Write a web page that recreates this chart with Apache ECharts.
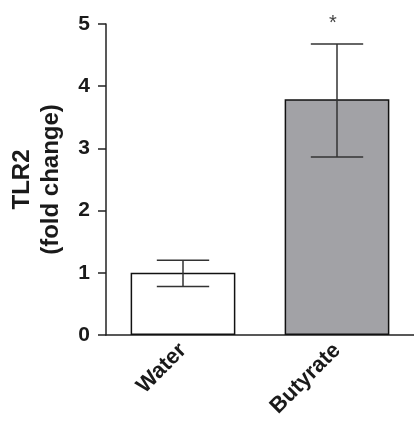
<!DOCTYPE html>
<html>
<head>
<meta charset="utf-8">
<script src="https://cdn.jsdelivr.net/npm/echarts@6/dist/echarts.min.js"></script>
<style>
  html, body { margin: 0; padding: 0; background: #fff; }
  #chart { width: 414px; height: 423px; }
</style>
</head>
<body>
<div id="chart"></div>
<script>
// Data
let groups = ['Water', 'Butyrate'];
let means = [1.0, 3.79];
let errLow = [0.78, 2.86];
let errHigh = [1.20, 4.68];
let signif = ['', '*'];
let barColors = ['#ffffff', '#a2a2a6'];
let yTicks = [0, 1, 2, 3, 4, 5];

let chart = echarts.init(document.getElementById('chart'));

let option = {
    animation: false,
    textStyle: { fontFamily: 'Liberation Sans, Arial, sans-serif' },
    grid: {
        left: 103,
        right: 0,
        top: 24,
        bottom: 88
    },
    xAxis: {
        type: 'category',
        data: groups,
        axisLine: { lineStyle: { color: '#222', width: 1.5 } },
        axisTick: { alignWithLabel: true, length: 8, lineStyle: { color: '#222', width: 1.5 } },
        axisLabel: {
            rotate: 45,
            fontSize: 22,
            fontWeight: 'bold',
            color: '#1a1a1a',
            margin: 12
        }
    },
    yAxis: {
        type: 'value',
        min: yTicks[0],
        max: yTicks[yTicks.length - 1],
        interval: 1,
        name: 'TLR2\n(fold change)',
        nameLocation: 'middle',
        nameRotate: 90,
        nameGap: 40,
        nameTextStyle: { fontSize: 24, fontWeight: 'bold', color: '#1a1a1a', lineHeight: 29 },
        splitLine: { show: false },
        axisLine: { show: true, lineStyle: { color: '#222', width: 1.5 } },
        axisTick: { show: true, length: 8, lineStyle: { color: '#222', width: 1.5 } },
        axisLabel: { fontSize: 21, fontWeight: 'bold', color: '#1a1a1a', margin: 16 }
    },
    series: [{
            type: 'bar',
            barWidth: '68%',
            data: means.map(function(v, i) {
                return { value: v, itemStyle: { color: barColors[i] } };
            }),
            itemStyle: { borderColor: '#111', borderWidth: 1.5 },
            z: 2
        },
        {
            // error bars + significance mark
            type: 'custom',
            data: groups.map(function(g, i) {
                return [i, errLow[i], errHigh[i]];
            }),
            z: 3,
            renderItem: function(params, api) {
                let i = api.value(0);
                let lo = api.coord([i, api.value(1)]);
                let hi = api.coord([i, api.value(2)]);
                let half = api.size([1, 0])[0] * 0.17;
                let style = { stroke: '#333', lineWidth: 1.5 };
                let children = [
                    { type: 'line', shape: { x1: lo[0], y1: lo[1], x2: hi[0], y2: hi[1] }, style: style },
                    { type: 'line', shape: { x1: lo[0] - half, y1: lo[1], x2: lo[0] + half, y2: lo[1] }, style: style },
                    { type: 'line', shape: { x1: hi[0] - half, y1: hi[1], x2: hi[0] + half, y2: hi[1] }, style: style }
                ];
                if (signif[i]) {
                    children.push({
                        type: 'text',
                        style: {
                            text: signif[i],
                            x: hi[0] - 4,
                            y: hi[1] - 20,
                            align: 'center',
                            verticalAlign: 'middle',
                            fontSize: 20,
                            fill: '#444',
                            fontFamily: 'Liberation Sans, Arial, sans-serif'
                        }
                    });
                }
                return { type: 'group', children: children };
            }
        }
    ]
};

chart.setOption(option);
</script>
</body>
</html>
